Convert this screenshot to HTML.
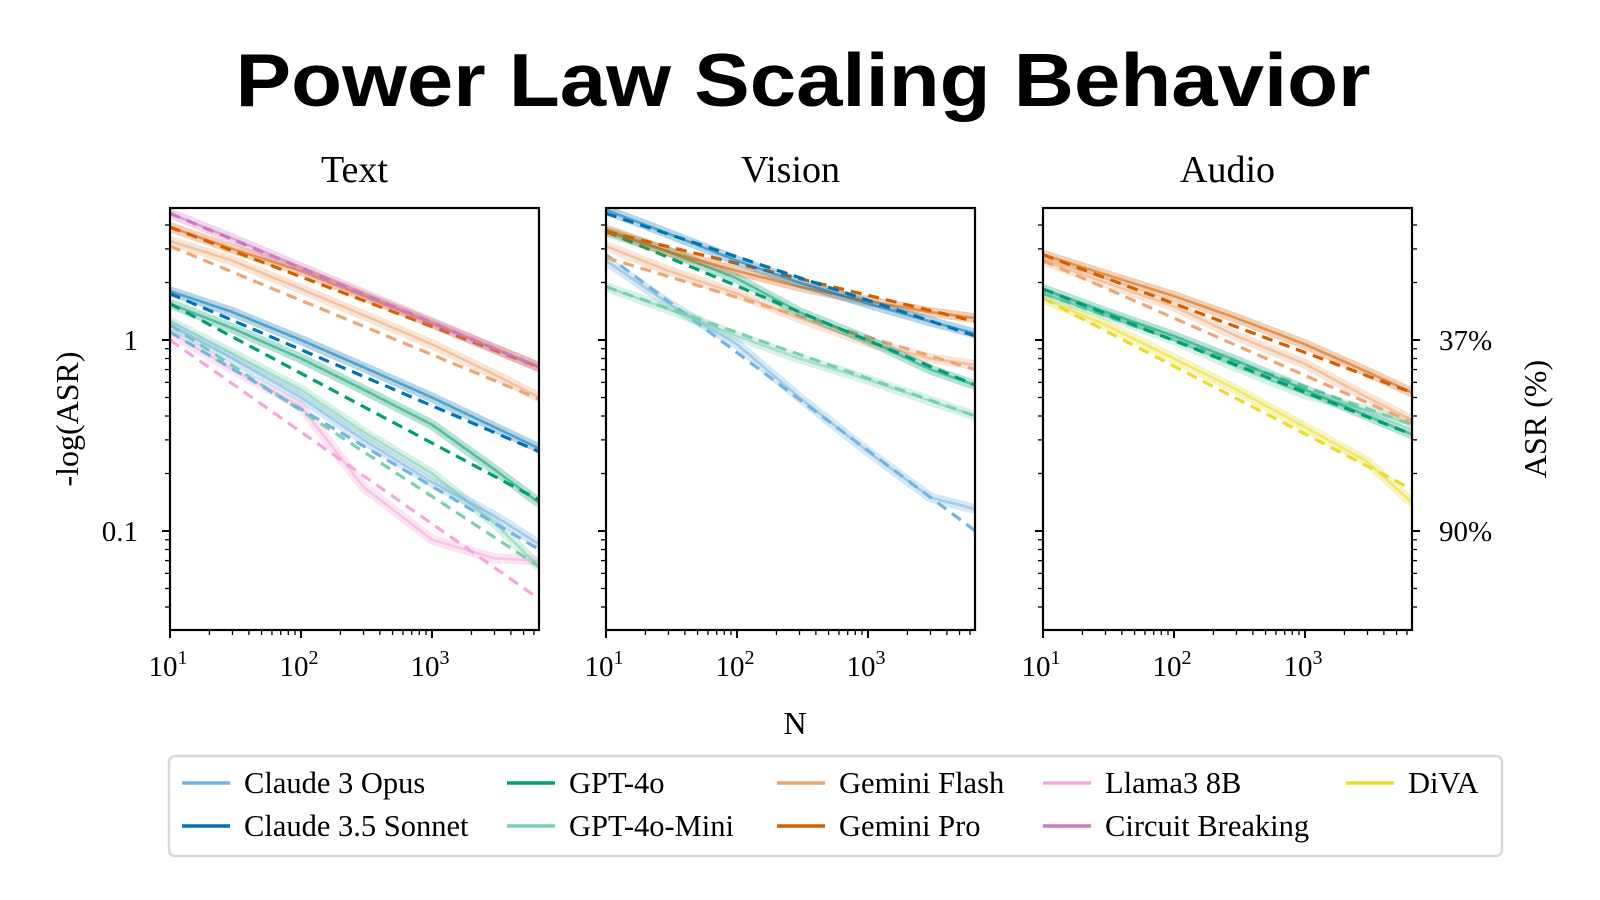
<!DOCTYPE html>
<html><head><meta charset="utf-8"><style>
body{margin:0;background:#fff;}
svg{display:block;font-family:"Liberation Serif",serif;}
</style></head><body>
<svg id="chart" width="1600" height="900" viewBox="0 0 1600 900">
<text x="803" y="106" text-anchor="middle" font-family="Liberation Sans, sans-serif" font-weight="bold" font-size="75" textLength="1135" lengthAdjust="spacingAndGlyphs">Power Law Scaling Behavior</text>
<g id="panels"></g>
<text x="795" y="734" text-anchor="middle" font-size="32">N</text>
<text transform="translate(78,419) rotate(-90)" text-anchor="middle" font-size="32">-log(ASR)</text>
<text transform="translate(1546,419) rotate(-90)" text-anchor="middle" font-size="32">ASR (%)</text>
<g id="legend">
<rect x="169" y="756" width="1333" height="100" rx="6" fill="#fff" stroke="#d8d8d8" stroke-width="2.5"/>
</g>
</svg>
<script>
const ns="http://www.w3.org/2000/svg";
const xsN=[10,30,100,300,1000,3000,6600];
const colors={opus:"#74b4e0",sonnet:"#0173b2",gpt4o:"#029e73",mini:"#7ad0ae",flash:"#eca676",pro:"#d55e00",llama:"#f5a6dc",cb:"#cc78bc",diva:"#e8dc2c"};
// Text panel values
const textCB=[4.6,3.4,2.4,1.75,1.24,0.9,0.72]; const textCBFit=[4.6,0.72];
const textPro=[3.9,3.0,2.3,1.7,1.22,0.9,0.72]; const textProFit=[3.9,0.72];
const textFlash=[3.3,2.6,1.85,1.35,0.95,0.66,0.5]; const textFlashFit=[3.1,0.49];
const textSonnet=[1.8,1.4,1.0,0.72,0.5,0.35,0.27]; const textSonnetFit=[1.75,0.26];
const textGpt4o=[1.55,1.15,0.8,0.55,0.36,0.21,0.14]; const textGpt4oFit=[1.55,0.145];
const textOpus=[1.2,0.8,0.5,0.3,0.18,0.12,0.085]; const textOpusFit=[1.1,0.08];
const textMini=[1.25,0.85,0.55,0.33,0.2,0.11,0.065]; const textMiniFit=[1.2,0.065];
const textLlama=[1.1,0.7,0.45,0.17,0.09,0.072,0.07]; const textLlamaFit=[1.0,0.044];
// Vision panel values
const visSonnet=[4.8,3.6,2.6,2.0,1.55,1.25,1.08]; const visSonnetFit=[4.6,1.05];
const visPro=[3.8,2.9,2.3,1.9,1.6,1.4,1.3]; const visProFit=[3.7,1.25];
const visFlash=[3.1,2.3,1.75,1.3,0.97,0.8,0.74]; const visFlashFit=[2.7,0.7];
const visGpt4o=[3.7,2.9,2.1,1.4,1.0,0.7,0.58]; const visGpt4oFit=[3.7,0.58];
const visMini=[1.9,1.45,1.05,0.8,0.62,0.48,0.4]; const visMiniFit=[1.9,0.4];
const visOpus=[2.6,1.55,0.95,0.5,0.26,0.15,0.13]; const visOpusFit=[2.8,0.1];
// Audio panel values
const audPro=[2.8,2.2,1.7,1.3,0.95,0.68,0.53]; const audProFit=[2.8,0.53];
const audFlash=[2.6,2.0,1.5,1.05,0.75,0.5,0.38]; const audFlashFit=[2.6,0.37];
const audGpt4o=[1.85,1.4,1.05,0.78,0.55,0.4,0.32]; const audGpt4oFit=[1.85,0.32];
const audMini=[1.75,1.35,1.0,0.72,0.52,0.43,0.36]; const audMiniFit=[1.75,0.36];
const audDiva=[1.65,1.2,0.8,0.55,0.35,0.23,0.14]; const audDivaFit=[1.65,0.165];
const yMajor=[1,0.1]; const yMajorLabels=["1","0.1"]; const yRightLabels=["37%","90%"];
const yMinor=[0.04,0.05,0.06,0.07,0.08,0.09,0.2,0.3,0.4,0.5,0.6,0.7,0.8,0.9,2,3,4];
const xMajor=[10,100,1000]; const xMajorExp=["1","2","3"];
const xMinor=[20,30,40,50,60,70,80,90,200,300,400,500,600,700,800,900,2000,3000,4000,5000,6000];
const legendNames=["Claude 3 Opus","Claude 3.5 Sonnet","GPT-4o","GPT-4o-Mini","Gemini Flash","Gemini Pro","Llama3 8B","Circuit Breaking","DiVA"];
const legendKeys=["opus","sonnet","gpt4o","mini","flash","pro","llama","cb","diva"];

const panels=[
 {name:"Text",x0:170,series:[["llama",textLlama,textLlamaFit],["mini",textMini,textMiniFit],["opus",textOpus,textOpusFit],["gpt4o",textGpt4o,textGpt4oFit],["sonnet",textSonnet,textSonnetFit],["flash",textFlash,textFlashFit],["pro",textPro,textProFit],["cb",textCB,textCBFit]]},
 {name:"Vision",x0:606,series:[["opus",visOpus,visOpusFit],["mini",visMini,visMiniFit],["flash",visFlash,visFlashFit],["gpt4o",visGpt4o,visGpt4oFit],["pro",visPro,visProFit],["sonnet",visSonnet,visSonnetFit]]},
 {name:"Audio",x0:1043,right:true,series:[["diva",audDiva,audDivaFit],["mini",audMini,audMiniFit],["gpt4o",audGpt4o,audGpt4oFit],["flash",audFlash,audFlashFit],["pro",audPro,audProFit]]}
];
const W=369,Y0=208,Y1=630,DEC=131,YDEC=191,Y_ONE=340,XMAXN=6600;
function mk(tag,attrs,parent){const e=document.createElementNS(ns,tag);for(const k in attrs)e.setAttribute(k,attrs[k]);parent.appendChild(e);return e;}
const root=document.getElementById("panels");
panels.forEach(p=>{
 const g=mk("g",{},root);
 
 
 const sx=n=>p.x0+(Math.log10(n)-1)*DEC;
 const sy=v=>Y_ONE-Math.log10(v)*YDEC;
 const xEnd=sx(XMAXN);
 const t=mk("text",{x:p.x0+W/2,y:182,"text-anchor":"middle","font-size":38},g);t.textContent=p.name;
 
 
 const clipId="clip"+p.name;
 const cp=mk("clipPath",{id:clipId},g);mk("rect",{x:p.x0,y:Y0,width:W,height:Y1-Y0},cp);
 const sg=mk("g",{"clip-path":"url(#"+clipId+")"},g);
 p.series.forEach(([k,vals,fit])=>{
  const pts=vals.map((v,i)=>sx(xsN[i]).toFixed(1)+","+sy(v).toFixed(1)).join(" ");
  const band=mk("polyline",{points:pts,fill:"none",stroke:colors[k],"stroke-width":10,"stroke-opacity":0.3,"stroke-linejoin":"round"},sg);
  
  
  const ln=mk("polyline",{points:pts,fill:"none",stroke:colors[k],"stroke-width":2.5,"stroke-opacity":0.55,"stroke-linejoin":"round"},sg);
  
  
  const d=mk("line",{x1:sx(10),y1:sy(fit[0]),x2:xEnd,y2:sy(fit[1]),stroke:colors[k],"stroke-width":3.2,"stroke-dasharray":"11,7"},sg);
  
  
 });
 const fr=mk("rect",{x:p.x0,y:Y0,width:W,height:Y1-Y0,fill:"none",stroke:"#000","stroke-width":2.2},g);
 
 
 const sides=p.right?[p.x0,p.x0+W]:[p.x0];
 sides.forEach(xx=>{
  const dir=xx===p.x0?-1:1;
  yMajor.forEach(v=>{mk("line",{x1:xx,x2:xx+dir*8,y1:sy(v),y2:sy(v),stroke:"#000","stroke-width":2},g);});
  yMinor.forEach(v=>{mk("line",{x1:xx,x2:xx+dir*5,y1:sy(v),y2:sy(v),stroke:"#000","stroke-width":1.3},g);});
 });
 if(p.name==="Text"){yMajor.forEach((v,i)=>{const l=mk("text",{x:p.x0-32,y:sy(v)+10,"text-anchor":"end","font-size":29},g);l.textContent=yMajorLabels[i];
  
  });}
 if(p.right){yMajor.forEach((v,i)=>{const l=mk("text",{x:p.x0+W+27,y:sy(v)+10,"font-size":29},g);l.textContent=yRightLabels[i];
  
  });}
 xMajor.forEach((n,i)=>{mk("line",{x1:sx(n),x2:sx(n),y1:Y1,y2:Y1+8,stroke:"#000","stroke-width":2},g);
  const l=mk("text",{x:sx(n)-2,y:Y1+46,"text-anchor":"middle","font-size":29},g);
  
  
  l.textContent="10";const ts=mk("tspan",{dy:-12,"font-size":20},l);ts.textContent=xMajorExp[i];});
 xMinor.forEach(n=>{mk("line",{x1:sx(n),x2:sx(n),y1:Y1,y2:Y1+5,stroke:"#000","stroke-width":1.3},g);});
});
const lg=document.getElementById("legend");
const colX=[182,507,777,1043,1346];
legendNames.forEach((nm,i)=>{
 const col=Math.floor(i/2),row=i%2;
 const cx=colX[col],cy=row?826:783;
 const e=mk("g",{},lg);
 
 
 mk("line",{x1:cx,x2:cx+48,y1:cy,y2:cy,stroke:colors[legendKeys[i]],"stroke-width":3.5},e);
 const t=mk("text",{x:cx+62,y:cy+10,"font-size":30.5},e);t.textContent=nm;
});
</script>
</body></html>
